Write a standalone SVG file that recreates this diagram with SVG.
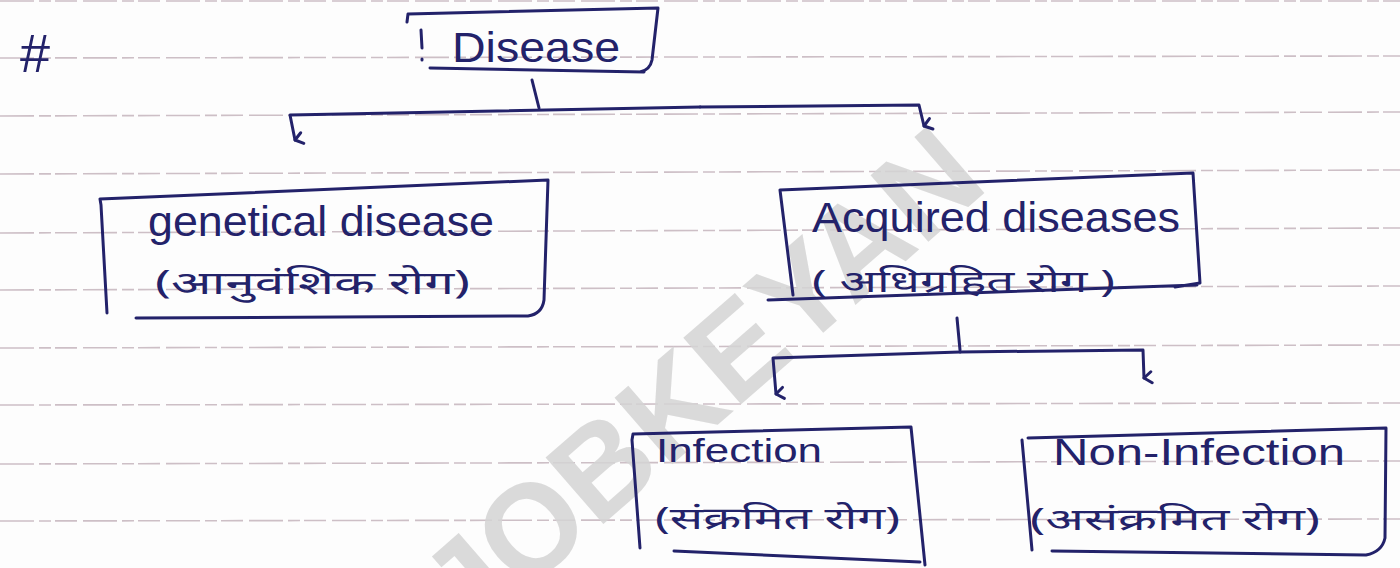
<svg xmlns="http://www.w3.org/2000/svg" width="1400" height="568" viewBox="0 0 1400 568">
  <defs>
    <style>
      .ink { fill: none; stroke: #23226a; stroke-width: 3; stroke-linecap: round; stroke-linejoin: round; }
      .rule { stroke: #cdbfc6; stroke-width: 1.6; stroke-dasharray: 34 5 12 4 22 6; }
      .en { font-family: "Liberation Sans", "DejaVu Sans", sans-serif; fill: #23226a; }
      .hi { font-family: "Noto Sans", "Noto Sans Devanagari", "Lohit Devanagari", "FreeSans", sans-serif; fill: #23226a; }
      .mark { font-family: "Liberation Sans", "DejaVu Sans", sans-serif; font-weight: bold; fill: #d4d4d4; fill-opacity: 0.85; font-size: 128px; }
    </style>
    <marker id="hook" viewBox="-8 -10 16 14" markerWidth="16" markerHeight="14" refX="0" refY="0" orient="auto" markerUnits="userSpaceOnUse">
      <path d="M -6 -7 L 0 0 L 5 -8" fill="none" stroke="#23226a" stroke-width="3" stroke-linecap="round" stroke-linejoin="round"/>
    </marker>
  </defs>

  <!-- paper -->
  <rect width="1400" height="568" fill="#fdfdfd"/>
  <g id="ruling">
    <line class="rule" x1="0" y1="1" x2="1400" y2="1"/>
    <line class="rule" x1="0" y1="58" x2="1400" y2="56"/>
    <line class="rule" x1="0" y1="116" x2="1400" y2="112"/>
    <line class="rule" x1="0" y1="174" x2="1400" y2="170"/>
    <line class="rule" x1="0" y1="233" x2="1400" y2="228"/>
    <line class="rule" x1="0" y1="290" x2="1400" y2="286"/>
    <line class="rule" x1="0" y1="348" x2="1400" y2="345"/>
    <line class="rule" x1="0" y1="405" x2="1400" y2="403"/>
    <line class="rule" x1="0" y1="464" x2="1400" y2="461"/>
    <line class="rule" x1="0" y1="521" x2="1400" y2="519"/>
  </g>

  <!-- watermark -->
  <text class="mark" x="0" y="0" textLength="690" lengthAdjust="spacingAndGlyphs" transform="translate(470 640) rotate(-41)">JOBKEYAN</text>

  <text id="hash" class="en" x="20" y="72" style="font-size:54px">#</text>

  <g id="disease">
    <path class="ink" d="M 407 22 L 408 14 L 658 8 L 652 60 Q 650 70 640 72 M 430 68 L 644 72"/>
    <path class="ink" d="M 421 30 L 422 48 M 422 59 L 422 60"/>
    <text class="en" x="452" y="62" style="font-size:42px" textLength="168" lengthAdjust="spacingAndGlyphs">Disease</text>
  </g>

  <g id="genetical">
    <path class="ink" d="M 107 313 L 101 205 L 100 199 L 548 180 L 544 300 Q 542 314 528 316 L 136 318"/>
    <text class="en" x="148" y="236" style="font-size:42px" textLength="346" lengthAdjust="spacingAndGlyphs">genetical disease</text>
    <text class="hi" x="155" y="294" style="font-size:32px" textLength="315" lengthAdjust="spacingAndGlyphs">(आनुवंशिक रोग)</text>
  </g>

  <g id="acquired">
    <path class="ink" d="M 793 295 L 780 190 L 1193 173 L 1200 283 L 1175 287 M 768 300 L 1197 285"/>
    <text class="en" x="812" y="232" style="font-size:42px" textLength="368" lengthAdjust="spacingAndGlyphs">Acquired diseases</text>
    <text class="hi" x="812" y="292" style="font-size:31px" textLength="303" lengthAdjust="spacingAndGlyphs">( अधिग्रहित रोग )</text>
  </g>

  <g id="infection">
    <path class="ink" d="M 640 548 L 632 440 L 633 434 L 911 427 L 925 565 M 674 551 L 920 562"/>
    <text class="en" x="656" y="462" style="font-size:34px" textLength="166" lengthAdjust="spacingAndGlyphs">Infection</text>
    <text class="hi" x="655" y="529" style="font-size:30px" textLength="245" lengthAdjust="spacingAndGlyphs">(संक्रमित रोग)</text>
  </g>

  <g id="non-infection">
    <path class="ink" d="M 1032 550 L 1022 440 M 1028 438 L 1386 428 L 1385 538 Q 1382 552 1366 555 L 1052 551"/>
    <text class="en" x="1053" y="465" style="font-size:36px" textLength="292" lengthAdjust="spacingAndGlyphs">Non-Infection</text>
    <text class="hi" x="1030" y="530" style="font-size:30px" textLength="290" lengthAdjust="spacingAndGlyphs">(असंक्रमित रोग)</text>
  </g>

  <g id="connectors">
    <path class="ink" d="M 532 80 L 539 108"/>
    <path class="ink" d="M 700 107 L 290 115 L 295 140" marker-end="url(#hook)"/>
    <path class="ink" d="M 700 107 L 919 105 L 924 126" marker-end="url(#hook)"/>
    <path class="ink" d="M 957 318 L 960 350"/>
    <path class="ink" d="M 960 352 L 773 358 L 776 394" marker-end="url(#hook)"/>
    <path class="ink" d="M 960 352 L 1143 350 L 1144 378" marker-end="url(#hook)"/>
  </g>
</svg>
